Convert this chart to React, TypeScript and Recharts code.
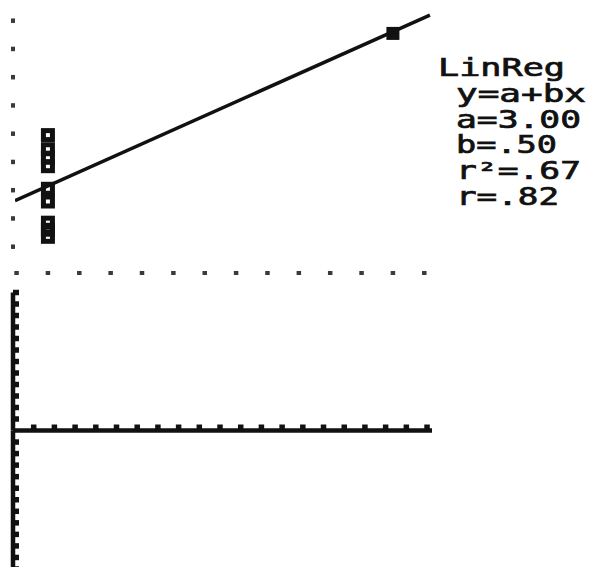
import { ComposedChart, Scatter, XAxis, YAxis } from 'recharts';

const INK = '#111';
const DOT = '#3a3a3a';
const MONO = '"DejaVu Sans Mono", monospace';

// upper screen: stat plot with the fitted line
const clusterX = [1, 1, 1, 1, 1, 1, 1, 1, 1];
const clusterY = [4.95, 4.45, 4.15, 3.85, 3.05, 2.6, 1.85, 1.6, 1.35];
const farX = [12];
const farY = [8.55];
const fitX = [-0.05, 13.18];
const fitY = [2.63, 9.2];
const gridX = [0, 1, 2, 3, 4, 5, 6, 7, 8, 9, 10, 11, 12, 13];
const gridY = [1, 2, 3, 4, 5, 6, 7, 8, 9];

const regTitle = 'LinReg';
const regLines = ['y=a+bx', 'a=3.00', 'b=.50', 'r²=.67', 'r=.82'];
const regWidths = [130, 125, 101, 125, 103];

// lower screen: empty window, axes only
const axisTicksX = [1, 2, 3, 4, 5, 6, 7, 8, 9, 10, 11, 12, 13, 14, 15, 16, 17, 18, 19, 20];
const axisTicksUp = [1, 2, 3, 4, 5, 6, 7, 8, 9, 10, 11, 12];
const axisTicksDown = [-1, -2, -3, -4, -5, -6, -7, -8, -9, -10, -11, -12];

const toPoints = (xs: number[], ys: number[]) => xs.map((x, i) => ({ x, y: ys[i] }));

const cluster = toPoints(clusterX, clusterY);
const far = toPoints(farX, farY);
const fit = toPoints(fitX, fitY);

// no tick labels, but keep the tick marks
const noLabel = () => <g />;

function HollowBox(props: any) {
  const { cx, cy } = props;
  return <rect x={cx - 4.5} y={cy - 4.5} width={9} height={9} fill="none" stroke={INK} strokeWidth={5} />;
}

function SolidBox(props: any) {
  const { cx, cy } = props;
  return <rect x={cx - 6.5} y={cy - 6.5} width={13} height={13} fill={INK} />;
}

const axisLine = { stroke: INK, strokeWidth: 4.5 };
const bump = { stroke: INK, strokeWidth: 5.5 };

export default function App() {
  return (
    <div style={{ position: 'absolute', left: 0, top: 0, width: 589, height: 567, overflow: 'hidden', background: '#fff' }}>
      <div style={{ position: 'absolute', left: 0, top: 0 }}>
        <ComposedChart width={440} height={290} margin={{ top: 6, right: 6, bottom: 0, left: 0 }}>
          <XAxis
            type="number"
            dataKey="x"
            domain={[-0.05, 13.31]}
            allowDataOverflow
            ticks={gridX}
            interval={0}
            height={19}
            axisLine={false}
            tick={noLabel}
            tickSize={4}
            tickLine={{ stroke: DOT, strokeWidth: 4.5 }}
          />
          <YAxis
            type="number"
            dataKey="y"
            domain={[0.14, 9.52]}
            allowDataOverflow
            ticks={gridY}
            interval={0}
            width={15}
            axisLine={false}
            tick={noLabel}
            tickSize={4}
            tickLine={{ stroke: DOT, strokeWidth: 4.5 }}
          />
          <Scatter
            data={fit}
            line={{ stroke: INK, strokeWidth: 3.5 }}
            shape={() => <g />}
            isAnimationActive={false}
          />
          <Scatter data={cluster} shape={HollowBox} isAnimationActive={false} />
          <Scatter data={far} shape={SolidBox} isAnimationActive={false} />
        </ComposedChart>
      </div>

      <div style={{ position: 'absolute', left: 0, top: 280 }}>
        <ComposedChart width={440} height={160} margin={{ top: 12.5, right: 8, bottom: 0, left: 0 }}>
          <XAxis
            type="number"
            dataKey="x"
            domain={[0, 20.24]}
            allowDataOverflow
            ticks={axisTicksX}
            interval={0}
            height={9.5}
            axisLine={axisLine}
            tick={noLabel}
            tickSize={-6}
            tickLine={bump}
          />
          <YAxis
            type="number"
            dataKey="y"
            domain={[0, 12]}
            allowDataOverflow
            ticks={axisTicksUp}
            interval={0}
            width={13}
            axisLine={axisLine}
            tick={noLabel}
            tickSize={-6}
            tickLine={bump}
          />
          <Scatter data={[]} isAnimationActive={false} />
        </ComposedChart>
      </div>

      <div style={{ position: 'absolute', left: 0, top: 425 }}>
        <ComposedChart width={440} height={144} margin={{ top: 5.5, right: 8, bottom: 0, left: 0 }}>
          <XAxis type="number" dataKey="x" domain={[0, 20.24]} allowDataOverflow hide />
          <YAxis
            type="number"
            dataKey="y"
            domain={[-12, 0]}
            allowDataOverflow
            ticks={axisTicksDown}
            interval={0}
            width={13}
            axisLine={axisLine}
            tick={noLabel}
            tickSize={-6}
            tickLine={bump}
          />
          <Scatter data={[]} isAnimationActive={false} />
        </ComposedChart>
      </div>

      <svg width={589} height={290} style={{ position: 'absolute', left: 0, top: 0 }}>
        <text
          x={438}
          y={76}
          textLength={127}
          lengthAdjust="spacingAndGlyphs"
          fontFamily={MONO}
          fontSize={24}
          fill={INK}
          stroke={INK}
          strokeWidth={0.7}
        >
          {regTitle}
        </text>
        {regLines.map((s, i) => (
          <text
            key={s}
            x={456}
            y={102 + i * 25.7}
            textLength={regWidths[i]}
            lengthAdjust="spacingAndGlyphs"
            fontFamily={MONO}
            fontSize={24}
            fill={INK}
            stroke={INK}
            strokeWidth={0.7}
          >
            {s}
          </text>
        ))}
      </svg>
    </div>
  );
}
